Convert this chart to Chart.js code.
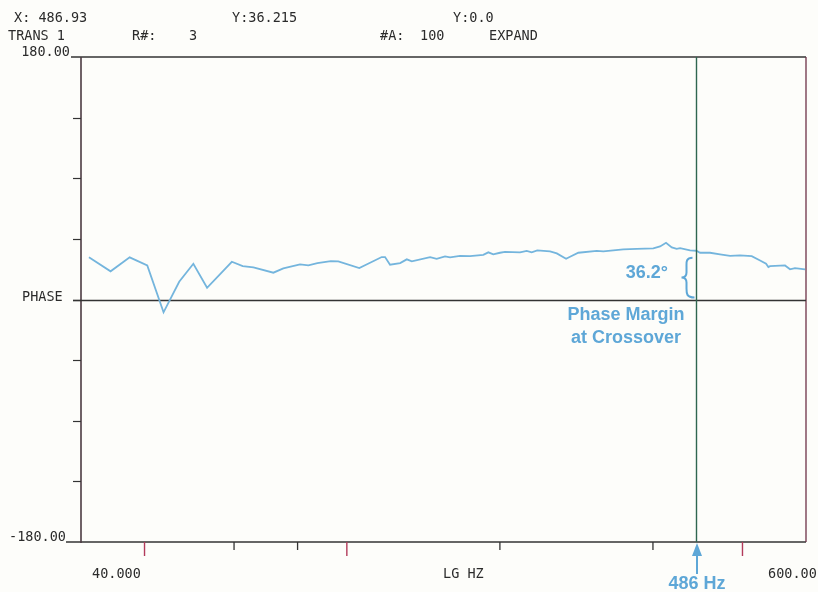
<!DOCTYPE html>
<html>
<head>
<meta charset="utf-8">
<title>TRANS 1 - PHASE</title>
<script src="https://cdn.jsdelivr.net/npm/chart.js@4"></script>
<style>
  html, body { margin: 0; padding: 0; background: #fdfdfa; }
  canvas { display: block; }
</style>
</head>
<body>
<canvas id="phaseChart" width="818" height="592"></canvas>
<script>
(function () {
  'use strict';

  // Measured phase response (Hz, degrees)
  const freqHz = [31.1, 34.3, 37.4, 40.5, 43.6, 46.8, 49.9, 53.1, 59.4, 62.4,
    65.5, 71.7, 75.0, 80.9, 84.0, 87.5, 93.0, 96.2, 105.8, 117.1,
    118.9, 121.6, 127.3, 131.2, 134.2, 145.8, 150.2, 156.0, 159.6, 167.0,
    174.7, 185.5, 189.8, 194.1, 200.1, 204.7, 219.1, 225.8, 231.0, 236.9,
    251.0, 258.8, 269.9, 274.8, 285.3, 310.1, 319.5, 349.8, 371.7, 400.7,
    413.1, 424.4, 435.6, 445.5, 452.3, 473.2, 486.9, 495.1, 518.0, 542.0,
    567.2, 593.3, 625.7, 649.8, 667.7, 674.6, 679.8, 727.5, 744.2, 761.2,
    796.5];
  const phaseDeg = [31.3, 20.9, 31.3, 25.3, -9.5, 13.2, 26.5, 8.7, 28.0, 24.8,
    23.9, 19.9, 23.1, 26.1, 25.3, 27.0, 28.5, 28.3, 23.3, 31.5,
    31.5, 25.8, 27.0, 29.8, 28.3, 31.5, 30.2, 32.0, 31.3, 32.4,
    32.2, 33.2, 35.0, 33.5, 34.7, 35.4, 35.0, 36.1, 35.0, 36.4,
    35.7, 34.2, 30.2, 31.7, 34.7, 36.1, 35.7, 37.2, 37.6, 37.9,
    39.4, 42.1, 38.7, 37.6, 38.1, 36.4, 36.2, 34.7, 34.7, 33.5,
    32.4, 32.7, 32.2, 29.0, 26.5, 24.1, 24.8, 25.3, 22.4, 23.3,
    22.4];

  // Axis setup
  const freqMin = 30;
  const freqMax = 800;
  const phaseMin = -180;
  const phaseMax = 180;
  const phaseTicks = [135, 90, 45, 0, -45, -90, -135];
  const freqMajorTicks = [40, 100, 600];
  const freqMinorTicks = [60, 80, 200, 400];
  const yTickLabels = ['180.00', 'PHASE', '-180.00'];
  const xTickLabels = ['40.000', 'LG HZ', '600.00'];

  // Cursor readout
  const cursorHz = 486.93;
  const phaseMargin = 36.2;
  const headerRow1 = ['X: 486.93', 'Y:36.215', 'Y:0.0'];
  const headerRow2 = ['TRANS 1', 'R#:', '3', '#A:', '100', 'EXPAND'];

  const MONO = '13.5px "DejaVu Sans Mono", monospace';
  const BOLD = 'bold 18px "Liberation Sans", Arial, sans-serif';
  const INK = '#2b2b2b';
  const BLUE = '#5ea7d7';
  const RED_TICK = '#b23a5a';

  const points = freqHz.map((f, i) => ({ x: f, y: phaseDeg[i] }));

  function line(ctx, x1, y1, x2, y2, color, width) {
    ctx.strokeStyle = color;
    ctx.lineWidth = width;
    ctx.beginPath();
    ctx.moveTo(x1, y1);
    ctx.lineTo(x2, y2);
    ctx.stroke();
  }

  function text(ctx, str, x, y, font, color, align) {
    ctx.font = font;
    ctx.fillStyle = color;
    ctx.textAlign = align || 'left';
    ctx.textBaseline = 'alphabetic';
    ctx.fillText(str, x, y);
  }

  // Paper background + frame, drawn under the trace
  const framePlugin = {
    id: 'frame',
    beforeDraw(chart) {
      const ctx = chart.ctx;
      ctx.save();
      ctx.fillStyle = '#fdfdfa';
      ctx.fillRect(0, 0, chart.width, chart.height);
      ctx.restore();
    },
    beforeDatasetsDraw(chart) {
      const ctx = chart.ctx;
      const { left, right, top, bottom } = chart.chartArea;
      const x = chart.scales.x;
      const y = chart.scales.y;
      ctx.save();

      // borders
      line(ctx, 71, top, right, top, '#333', 1.3);
      line(ctx, 66, bottom, right, bottom, '#333', 1.3);
      line(ctx, right, top, right, bottom, '#6e3248', 1.3);
      line(ctx, left, top, left, bottom + 1, '#4b3a42', 1.6);

      // phase ticks on the left, zero line across
      phaseTicks.forEach(v => {
        const py = Math.round(y.getPixelForValue(v)) + 0.5;
        line(ctx, left - 8, py, left, py, '#333', 1.2);
      });
      const zy = Math.round(y.getPixelForValue(0)) + 0.5;
      line(ctx, left - 8, zy, right, zy, '#333', 1.3);

      // frequency ticks below the frame
      freqMajorTicks.forEach(f => {
        const px = x.getPixelForValue(f);
        line(ctx, px, bottom, px, bottom + 14, RED_TICK, 1.4);
      });
      freqMinorTicks.forEach(f => {
        const px = x.getPixelForValue(f);
        line(ctx, px, bottom, px, bottom + 8, '#333', 1.3);
      });

      // labels
      text(ctx, yTickLabels[0], 70, 56, MONO, INK, 'right');
      text(ctx, yTickLabels[1], 22, 301, MONO, INK);
      text(ctx, yTickLabels[2], 66, 541, MONO, INK, 'right');
      text(ctx, xTickLabels[0], 92, 578, MONO, INK);
      text(ctx, xTickLabels[1], 443, 578, MONO, INK);
      text(ctx, xTickLabels[2], 768, 578, MONO, INK);

      // header readout
      text(ctx, headerRow1[0], 14, 22, MONO, INK);
      text(ctx, headerRow1[1], 232, 22, MONO, INK);
      text(ctx, headerRow1[2], 453, 22, MONO, INK);
      text(ctx, headerRow2[0], 8, 40, MONO, INK);
      text(ctx, headerRow2[1], 132, 40, MONO, INK);
      text(ctx, headerRow2[2], 189, 40, MONO, INK);
      text(ctx, headerRow2[3], 380, 40, MONO, INK);
      text(ctx, headerRow2[4], 420, 40, MONO, INK);
      text(ctx, headerRow2[5], 489, 40, MONO, INK);

      ctx.restore();
    },
    afterDatasetsDraw(chart) {
      const ctx = chart.ctx;
      const { top, bottom } = chart.chartArea;
      const x = chart.scales.x;
      const y = chart.scales.y;
      const cx = Math.round(x.getPixelForValue(cursorHz)) + 0.5;
      ctx.save();

      // cursor
      line(ctx, cx, top, cx, bottom, '#2f6650', 1.4);

      // brace from 0 up to the phase margin
      const y0 = y.getPixelForValue(0) - 2;
      const y1 = y.getPixelForValue(phaseMargin) + 7;
      const ym = (y0 + y1) / 2;
      const bx = cx - 6;
      ctx.strokeStyle = BLUE;
      ctx.lineWidth = 2;
      ctx.beginPath();
      ctx.moveTo(bx + 2, y1);
      ctx.bezierCurveTo(bx - 5, y1, bx - 4, y1 + 5, bx - 4, y1 + 9);
      ctx.lineTo(bx - 4, ym - 5);
      ctx.bezierCurveTo(bx - 4, ym - 2, bx - 6, ym, bx - 9, ym);
      ctx.bezierCurveTo(bx - 6, ym, bx - 4, ym + 2, bx - 4, ym + 5);
      ctx.lineTo(bx - 4, y0 - 9);
      ctx.bezierCurveTo(bx - 4, y0 - 4, bx - 4, y0, bx + 4, y0);
      ctx.stroke();

      text(ctx, phaseMargin.toFixed(1) + '°', 668, 278, BOLD, BLUE, 'right');
      text(ctx, 'Phase Margin', 626, 320, BOLD, BLUE, 'center');
      text(ctx, 'at Crossover', 626, 343, BOLD, BLUE, 'center');

      // arrow pointing at the crossover frequency
      const ax = cx + 0.5;
      line(ctx, ax, 574, ax, 552, BLUE, 2);
      ctx.fillStyle = BLUE;
      ctx.beginPath();
      ctx.moveTo(ax, 543);
      ctx.lineTo(ax - 5, 556);
      ctx.lineTo(ax + 5, 556);
      ctx.closePath();
      ctx.fill();
      text(ctx, Math.floor(cursorHz) + ' Hz', ax, 589, BOLD, BLUE, 'center');

      ctx.restore();
    }
  };

  document.addEventListener('DOMContentLoaded', () => {
    const ctx = document.getElementById('phaseChart').getContext('2d');
    new Chart(ctx, {
      type: 'line',
      data: {
        datasets: [{
          label: 'PHASE',
          data: points,
          borderColor: '#74b5dd',
          borderWidth: 1.8,
          pointRadius: 0,
          fill: false,
          tension: 0
        }]
      },
      options: {
        responsive: false,
        animation: false,
        devicePixelRatio: 1,
        layout: { padding: { left: 81, right: 12, top: 57, bottom: 50 } },
        plugins: { legend: { display: false }, tooltip: { enabled: false } },
        scales: {
          x: { type: 'logarithmic', min: freqMin, max: freqMax, display: false },
          y: { type: 'linear', min: phaseMin, max: phaseMax, display: false }
        }
      },
      plugins: [framePlugin]
    });
  });
})();
</script>
</body>
</html>
